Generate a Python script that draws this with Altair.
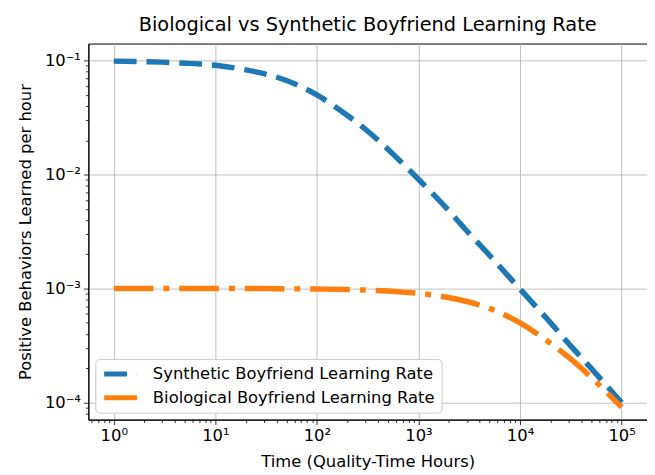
import altair as alt
import pandas as pd

# ---- data ----
hours = [1, 2, 3, 5, 7, 10, 20, 30, 50, 70, 100, 200, 300, 500, 700,
         1000, 2000, 3000, 5000, 7000, 10000, 20000, 30000, 50000, 70000, 100000]
synthetic = [0.099, 0.098, 0.097, 0.095, 0.0935, 0.091, 0.083, 0.077, 0.067, 0.059,
             0.050, 0.033, 0.025, 0.0167, 0.0125, 0.0091, 0.0048, 0.0032, 0.00196,
             0.00141, 0.00099, 0.0005, 0.00033, 0.0002, 0.000143, 0.0001]
biological = [0.001, 0.001, 0.001, 0.001, 0.001, 0.001, 0.001, 0.001, 0.000995, 0.000993,
              0.00099, 0.00098, 0.00097, 0.00095, 0.00093, 0.00091, 0.00083, 0.00077,
              0.00067, 0.00059, 0.0005, 0.00033, 0.00025, 0.000167, 0.000125, 0.000091]
series_names = ["Synthetic Boyfriend Learning Rate", "Biological Boyfriend Learning Rate"]
series_colors = ["#1f77b4", "#ff7f0e"]
series_dashes = [[23, 10], [40, 10, 6, 10]]

x_major = [1, 10, 100, 1000, 10000, 100000]
x_major_labels = ["10⁰", "10¹", "10²", "10³", "10⁴", "10⁵"]
y_major = [0.0001, 0.001, 0.01, 0.1]
y_major_labels = ["10⁻⁴", "10⁻³", "10⁻²", "10⁻¹"]
minor_mult = [2, 3, 4, 5, 6, 7, 8, 9]

x_domain = [10 ** -0.25, 10 ** 5.25]
y_domain = [10 ** -4.15, 10 ** -0.85]

rows = []
for name, vals in zip(series_names, [synthetic, biological]):
    for h, v in zip(hours, vals):
        rows.append({"hours": h, "rate": v, "series": name})
df = pd.DataFrame(rows)


def minor_ticks(majors, lo, hi):
    out = []
    for m in [majors[0] / 10] + majors:
        for k in minor_mult:
            t = m * k
            if lo <= t <= hi:
                out.append(t)
    return out


def major_test(majors):
    return " || ".join(f"abs(datum.value/{v} - 1) < 1e-6" for v in majors)


def label_expr(majors, labels):
    expr = "''"
    for v, l in reversed(list(zip(majors, labels))):
        expr = f"abs(datum.value/{v} - 1) < 1e-6 ? '{l}' : ({expr})"
    return expr


FONT = "DejaVu Sans"
FS = 16.5


def make_axis(majors, labels, lo, hi, title, is_x):
    test = major_test(majors)
    return alt.Axis(
        values=majors + minor_ticks(majors, lo, hi),
        labelExpr=label_expr(majors, labels),
        grid=True,
        gridColor="#b0b0b0",
        gridWidth=0.8,
        gridOpacity={"condition": {"test": test, "value": 1}, "value": 0},
        tickSize={"condition": {"test": test, "value": 5}, "value": 3},
        tickColor="black",
        tickWidth=0.8,
        domainColor="black",
        domainWidth=1,
        labelFont=FONT,
        labelFontSize=FS,
        labelColor="black",
        labelPadding=3,
        labelOverlap=False,
        labelFlush=False,
        title=title,
        titleFont=FONT,
        titleFontSize=FS,
        titleFontWeight="normal",
        titleColor="black",
        titlePadding=10 if is_x else 11,
    )


legend = alt.Legend(
    title=None,
    orient="bottom-left",
    offset=7,
    fillColor="white",
    strokeColor="#cccccc",
    cornerRadius=4,
    padding=6,
    symbolType="stroke",
    symbolSize=1100,
    symbolStrokeWidth=5,
    labelFont=FONT,
    labelFontSize=FS,
    labelColor="black",
    labelOffset=13,
    labelLimit=500,
    clipHeight=18,
    rowPadding=6,
)

chart = (
    alt.Chart(df)
    .mark_line(strokeWidth=5.5, strokeCap="butt", interpolate="monotone")
    .encode(
        x=alt.X("hours:Q",
                scale=alt.Scale(type="log", domain=x_domain, nice=False),
                axis=make_axis(x_major, x_major_labels, x_domain[0], x_domain[1],
                               "Time (Quality-Time Hours)", True)),
        y=alt.Y("rate:Q",
                scale=alt.Scale(type="log", domain=y_domain, nice=False),
                axis=make_axis(y_major, y_major_labels, y_domain[0], y_domain[1],
                               "Positive Behaviors Learned per hour", False)),
        color=alt.Color("series:N",
                        scale=alt.Scale(domain=series_names, range=series_colors),
                        legend=legend),
        strokeDash=alt.StrokeDash("series:N",
                                  scale=alt.Scale(domain=series_names, range=series_dashes),
                                  legend=legend),
        order=alt.Order("hours:Q"),
    )
    .properties(
        width=563,
        height=379,
        title=alt.TitleParams(
            "Biological vs Synthetic Boyfriend Learning Rate",
            font=FONT, fontSize=19.5, fontWeight="normal", color="black",
            anchor="middle", offset=8,
        ),
        autosize=alt.AutoSizeParams(type="none"),
        padding={"left": 81, "top": 34, "right": 0, "bottom": 52},
    )
    .configure_view(stroke="black", strokeWidth=1)
)

chart.save("out.html", embed_options={"renderer": "svg", "actions": False})
